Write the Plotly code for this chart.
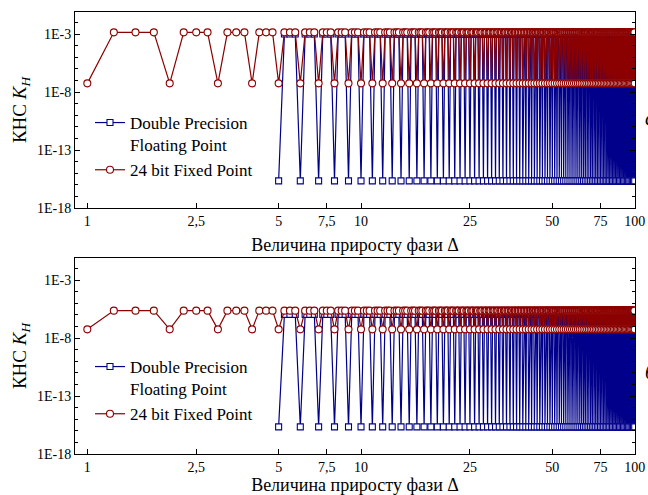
import plotly.graph_objects as go

# Phase increment grid (x)
delta = [
    1, 1.25, 1.5, 1.75, 2, 2.25, 2.5, 2.75, 3, 3.25, 3.5, 3.75, 4, 4.25, 4.5, 4.75, 5, 5.25, 5.5, 5.75,
    6, 6.25, 6.5, 6.75, 7, 7.25, 7.5, 7.75, 8, 8.25, 8.5, 8.75, 9, 9.25, 9.5, 9.75, 10, 10.25, 10.5, 10.75,
    11, 11.25, 11.5, 11.75, 12, 12.25, 12.5, 12.75, 13, 13.25, 13.5, 13.75, 14, 14.25, 14.5, 14.75, 15, 15.25, 15.5, 15.75,
    16, 16.25, 16.5, 16.75, 17, 17.25, 17.5, 17.75, 18, 18.25, 18.5, 18.75, 19, 19.25, 19.5, 19.75, 20, 20.25, 20.5, 20.75,
    21, 21.25, 21.5, 21.75, 22, 22.25, 22.5, 22.75, 23, 23.25, 23.5, 23.75, 24, 24.25, 24.5, 24.75, 25, 25.25, 25.5, 25.75,
    26, 26.25, 26.5, 26.75, 27, 27.25, 27.5, 27.75, 28, 28.25, 28.5, 28.75, 29, 29.25, 29.5, 29.75, 30, 30.25, 30.5, 30.75,
    31, 31.25, 31.5, 31.75, 32, 32.25, 32.5, 32.75, 33, 33.25, 33.5, 33.75, 34, 34.25, 34.5, 34.75, 35, 35.25, 35.5, 35.75,
    36, 36.25, 36.5, 36.75, 37, 37.25, 37.5, 37.75, 38, 38.25, 38.5, 38.75, 39, 39.25, 39.5, 39.75, 40, 40.25, 40.5, 40.75,
    41, 41.25, 41.5, 41.75, 42, 42.25, 42.5, 42.75, 43, 43.25, 43.5, 43.75, 44, 44.25, 44.5, 44.75, 45, 45.25, 45.5, 45.75,
    46, 46.25, 46.5, 46.75, 47, 47.25, 47.5, 47.75, 48, 48.25, 48.5, 48.75, 49, 49.25, 49.5, 49.75, 50, 50.25, 50.5, 50.75,
    51, 51.25, 51.5, 51.75, 52, 52.25, 52.5, 52.75, 53, 53.25, 53.5, 53.75, 54, 54.25, 54.5, 54.75, 55, 55.25, 55.5, 55.75,
    56, 56.25, 56.5, 56.75, 57, 57.25, 57.5, 57.75, 58, 58.25, 58.5, 58.75, 59, 59.25, 59.5, 59.75, 60, 60.25, 60.5, 60.75,
    61, 61.25, 61.5, 61.75, 62, 62.25, 62.5, 62.75, 63, 63.25, 63.5, 63.75, 64, 64.25, 64.5, 64.75, 65, 65.25, 65.5, 65.75,
    66, 66.25, 66.5, 66.75, 67, 67.25, 67.5, 67.75, 68, 68.25, 68.5, 68.75, 69, 69.25, 69.5, 69.75, 70, 70.25, 70.5, 70.75,
    71, 71.25, 71.5, 71.75, 72, 72.25, 72.5, 72.75, 73, 73.25, 73.5, 73.75, 74, 74.25, 74.5, 74.75, 75, 75.25, 75.5, 75.75,
    76, 76.25, 76.5, 76.75, 77, 77.25, 77.5, 77.75, 78, 78.25, 78.5, 78.75, 79, 79.25, 79.5, 79.75, 80, 80.25, 80.5, 80.75,
    81, 81.25, 81.5, 81.75, 82, 82.25, 82.5, 82.75, 83, 83.25, 83.5, 83.75, 84, 84.25, 84.5, 84.75, 85, 85.25, 85.5, 85.75,
    86, 86.25, 86.5, 86.75, 87, 87.25, 87.5, 87.75, 88, 88.25, 88.5, 88.75, 89, 89.25, 89.5, 89.75, 90, 90.25, 90.5, 90.75,
    91, 91.25, 91.5, 91.75, 92, 92.25, 92.5, 92.75, 93, 93.25, 93.5, 93.75, 94, 94.25, 94.5, 94.75, 95, 95.25, 95.5, 95.75,
    96, 96.25, 96.5, 96.75, 97, 97.25, 97.5, 97.75, 98, 98.25, 98.5, 98.75, 99, 99.25, 99.5, 99.75, 100,
]

# Per-point level: 0 = lower level, 1 = upper level
state = (
    "01110111011101110111"
    "01110111011101110111"
    "01110111011101110111"
    "01110111011101110111"
    "01110111011101110111"
    "01110111011101110111"
    "01110111011101110111"
    "01110111011101110111"
    "01110111011101110111"
    "01110111011101110111"
    "01110111011101110111"
    "01110111011101110111"
    "01110111011101110111"
    "01110111011101110111"
    "01110111011101110111"
    "01110111011101110111"
    "01110111011101110111"
    "01110111011101110111"
    "01110111011101110111"
    "0111011101110111"
    "0"
)

blue_first_delta = 5

# Levels [lower, upper] per panel
red_levels_top = [5.6e-8, 1.4e-3]
blue_levels_top = [2.2e-16, 1.0e-3]
red_levels_bot = [5.6e-8, 2.3e-6]
blue_levels_bot = [2.2e-16, 1.1e-6]

x_tickvals = [1, 2.5, 5, 7.5, 10, 25, 50, 75, 100]
x_ticktext = ["1", "2,5", "5", "7,5", "10", "25", "50", "75", "100"]
y_tickvals = [1e-18, 1e-13, 1e-8, 1e-3]
y_ticktext = ["1E-18", "1E-13", "1E-8", "1E-3"]
y_minor = [10.0 ** (-k) for k in range(18, 0, -1)]

name_blue = "Double Precision<br>Floating Point"
name_red = "24 bit Fixed Point"
panel_labels = ["а", "б"]

RED = "#8B0000"
BLUE = "#00008B"
FONT = "Liberation Serif"

n = min(len(delta), len(state))
xs = delta[:n]
st = [int(c) for c in state[:n]]

fig = go.Figure()

def add_panel(xa, ya, leg, red_lv, blue_lv):
    bx = [x for x, s in zip(xs, st) if x >= blue_first_delta]
    by = [blue_lv[s] for x, s in zip(xs, st) if x >= blue_first_delta]
    ry = [red_lv[s] for s in st]
    fig.add_trace(go.Scatter(
        x=bx, y=by, mode="lines+markers", name=name_blue,
        line=dict(color=BLUE, width=1.2),
        marker=dict(symbol="square", size=6, color="white", line=dict(color=BLUE, width=1.1)),
        xaxis=xa, yaxis=ya, legend=leg))
    fig.add_trace(go.Scatter(
        x=xs, y=ry, mode="lines+markers", name=name_red,
        line=dict(color=RED, width=1.2),
        marker=dict(symbol="circle", size=7, color="white", line=dict(color=RED, width=1.1)),
        xaxis=xa, yaxis=ya, legend=leg))

add_panel("x", "y", "legend", red_levels_top, blue_levels_top)
add_panel("x2", "y2", "legend2", red_levels_bot, blue_levels_bot)

# Page body margin is removed by the post script, so the figure fills the window.
W, H = 648, 495
ml, mr, mt, mb = 75, 13, 12, 41
pw = W - ml - mr
ph = H - mt - mb

def py(px):
    return (H - mb - px) / ph

def pxr(px):
    return (px - ml) / pw

xax = dict(
    type="log", range=[-0.045, 2.001], automargin=False,
    tickmode="array", tickvals=x_tickvals, ticktext=x_ticktext,
    ticks="inside", ticklen=5, tickcolor="black", ticklabeloverflow="allow",
    showline=True, linecolor="black", linewidth=1, mirror=True,
    showgrid=False, zeroline=False,
    tickfont=dict(family=FONT, size=14, color="black"),
    title=dict(text="Величина приросту фази Δ", font=dict(family=FONT, size=18, color="black"), standoff=10),
)
yax = dict(
    type="log", range=[-18, -1.1], automargin=False,
    tickmode="array", tickvals=y_tickvals, ticktext=y_ticktext,
    ticks="inside", ticklen=5, tickcolor="black", ticklabeloverflow="allow",
    minor=dict(tickvals=y_minor, ticks="inside", ticklen=3, tickcolor="black"),
    showline=True, linecolor="black", linewidth=1, mirror="allticks",
    showgrid=False, zeroline=False,
    tickfont=dict(family=FONT, size=14, color="black"),
    title=dict(text="КНС <i>K</i><sub><i>H</i></sub>", font=dict(family=FONT, size=19, color="black"), standoff=5),
)

leg = dict(
    font=dict(family=FONT, size=17, color="black"),
    bgcolor="rgba(0,0,0,0)", borderwidth=0,
    xanchor="left", yanchor="top", valign="top",
    traceorder="normal", tracegroupgap=0,
)

fig.update_layout(
    width=W, height=H,
    margin=dict(l=ml, r=mr, t=mt, b=mb, autoexpand=False),
    paper_bgcolor="white", plot_bgcolor="white",
    xaxis=dict(xax, domain=[0, 1], anchor="y"),
    yaxis=dict(yax, domain=[py(208), 1], anchor="x"),
    xaxis2=dict(xax, domain=[0, 1], anchor="y2"),
    yaxis2=dict(yax, domain=[0, py(258)], anchor="x2"),
    legend=dict(leg, x=pxr(90), y=py(105)),
    legend2=dict(leg, x=pxr(90), y=py(349)),
    showlegend=True,
)

for lbl, ypx in zip(panel_labels, [118, 372]):
    fig.add_annotation(
        text="<i>" + lbl + "</i>", xref="paper", yref="paper",
        x=pxr(643), y=py(ypx),
        xanchor="left", yanchor="middle", showarrow=False,
        font=dict(family=FONT, size=20, color="black"),
    )

post = (
    "document.body.style.margin='0';"
    "document.body.style.overflow='hidden';"
    "document.documentElement.style.overflow='hidden';"
)

fig.write_html("out.html", post_script=post, config={"displayModeBar": False})
